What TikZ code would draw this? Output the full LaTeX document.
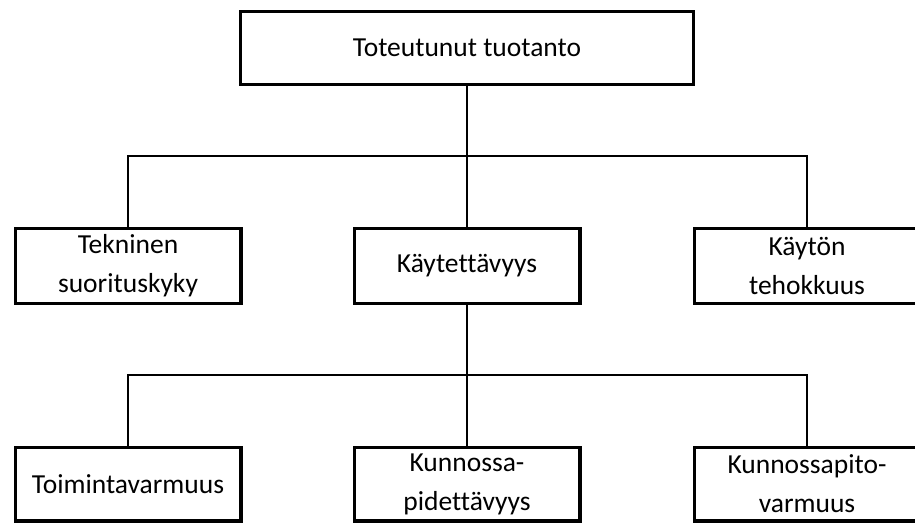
\documentclass[tikz,border=0pt]{standalone}
\usepackage{fontspec}
\setmainfont[Ligatures=NoCommon]{Carlito}
\begin{document}
\begin{tikzpicture}[x=1pt,y=-1pt,
  box/.style={draw, line width=3.2pt, inner sep=0pt, outer sep=0pt,
    minimum width=225.8pt, minimum height=74.8pt, align=center,
    font=\fontsize{27.5}{39}\selectfont},
  link/.style={line width=1.6pt}]
\useasboundingbox (0,0) rectangle (915,523);
\clip (0,0) rectangle (915,523);

% top level
\node[box, minimum width=452.8pt, minimum height=72.8pt] (top) at (467,48) {Toteutunut tuotanto};

% second level
\node[box] (tek) at (128,266) {Tekninen\\suorituskyky};
\node[box] (kay) at (467,266) {Käytettävyys};
\node[box] (teh) at (807,266) {Käytön\\tehokkuus};

% third level
\node[box, minimum height=73.8pt] (toi) at (128,484) {Toimintavarmuus};
\node[box, minimum height=73.8pt] (kun) at (467,484) {Kunnossa-\\pidettävyys};
\node[box, minimum height=73.8pt] (kpv) at (807,484) {Kunnossapito-\\varmuus};

% bus lines
\coordinate (bus1) at (467,156);
\coordinate (bus2) at (467,375);

\draw[link] (top.south) -- (bus1);
\draw[link] (tek.north) |- (bus1) -| (teh.north);
\draw[link] (bus1) -- (kay.north);

\draw[link] (kay.south) -- (bus2);
\draw[link] (toi.north) |- (bus2) -| (kpv.north);
\draw[link] (bus2) -- (kun.north);
\end{tikzpicture}
\end{document}
